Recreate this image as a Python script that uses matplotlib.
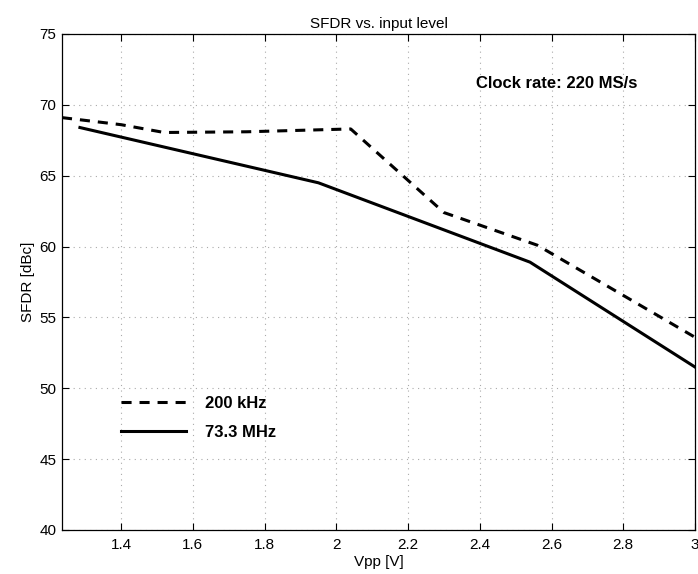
import matplotlib
matplotlib.use("Agg")
import matplotlib.pyplot as plt

plt.rcParams['font.family'] = ['Liberation Sans', 'DejaVu Sans']

# Data
vpp_200k = [1.235, 1.40, 1.52, 1.75, 2.04, 2.30, 2.56, 3.00]
sfdr_200k = [69.1, 68.6, 68.05, 68.1, 68.3, 62.4, 60.1, 53.6]

vpp_73m = [1.285, 1.95, 2.54, 3.00]
sfdr_73m = [68.4, 64.5, 58.9, 51.5]

series_labels = ["200 kHz", "73.3 MHz"]
x_ticks = [1.4, 1.6, 1.8, 2.0, 2.2, 2.4, 2.6, 2.8, 3.0]
x_tick_labels = ["1.4", "1.6", "1.8", "2", "2.2", "2.4", "2.6", "2.8", "3"]
y_ticks = [40, 45, 50, 55, 60, 65, 70, 75]

fig = plt.figure(figsize=(6.98, 5.74), dpi=100)
ax = fig.add_axes([62 / 698, 44 / 574, 633 / 698, 496 / 574])

ax.plot(vpp_200k, sfdr_200k, color='black', lw=2.2, linestyle=(0, (3.3, 2.6)),
        label=series_labels[0])
ax.plot(vpp_73m, sfdr_73m, color='black', lw=2.2, linestyle='-',
        label=series_labels[1])

ax.set_xlim(1.235, 3.0)
ax.set_ylim(40, 75)
ax.set_xticks(x_ticks)
ax.set_xticklabels(x_tick_labels)
ax.set_yticks(y_ticks)
ax.tick_params(direction='in', top=True, right=True, length=5, width=0.8,
               labelsize=11, colors='black')
ax.tick_params(axis='y', pad=4)
ax.tick_params(axis='x', pad=6)
ax.grid(True, linestyle=(0, (1, 4)), color='#aaaaaa', linewidth=0.8)
for s in ax.spines.values():
    s.set_linewidth(0.9)
    s.set_color('black')

ax.set_title("SFDR vs. input level", fontsize=11, pad=4)
ax.set_xlabel("Vpp [V]", fontsize=11, labelpad=2)
ax.set_ylabel("SFDR [dBc]", fontsize=11, labelpad=3)

ax.text(2.39, 71.5, "Clock rate: 220 MS/s", fontsize=12, fontweight='bold',
        ha='left', va='center')

leg = ax.legend(loc='upper left', bbox_to_anchor=(0.07, 0.30), frameon=False,
                prop={'weight': 'bold', 'size': 12}, handlelength=3.9,
                handletextpad=1.1, labelspacing=0.8)

fig.savefig("out.png", dpi=100)
